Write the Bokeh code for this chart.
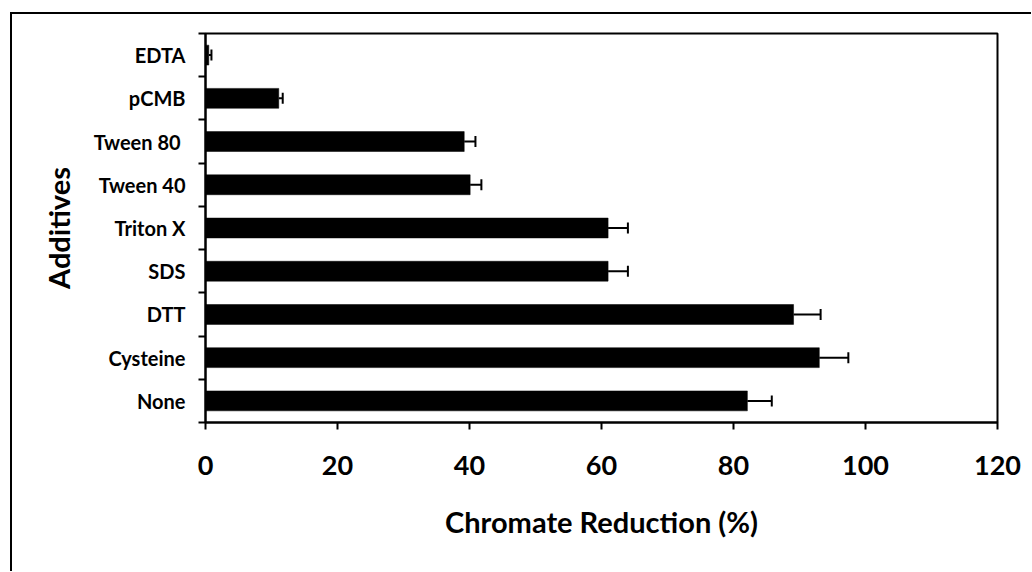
from bokeh.plotting import figure
from bokeh.models import ColumnDataSource, Range1d, FixedTicker, Whisker, TeeHead, CustomJSTickFormatter
from bokeh.embed import file_html
from bokeh.resources import INLINE

# ---- data (bottom to top) ----
categories = ["None", "Cysteine", "DTT", "SDS", "Triton X", "Tween 40", "Tween  80", "pCMB", "EDTA"]
reduction = [82.1, 93.0, 89.1, 61.0, 61.0, 40.1, 39.2, 11.1, 0.5]
errors = [3.7, 4.4, 4.1, 3.0, 3.0, 1.7, 1.7, 0.6, 0.4]
x_ticks = [0, 20, 40, 60, 80, 100, 120]

ypos = [i + 0.5 for i in range(len(categories))]
src = ColumnDataSource(dict(
    y=ypos,
    value=reduction,
    upper=[v + e for v, e in zip(reduction, errors)],
    cat=categories,
))

FONT = "Lato"

p = figure(
    output_backend="svg", toolbar_location=None,
    frame_width=792, frame_height=389,
    min_border_left=193, min_border_top=19, min_border_right=34, min_border_bottom=149,
    x_range=Range1d(0, 120), y_range=Range1d(0, len(categories)),
)
p.styles = {"border-left": "2px solid #000", "border-top": "2px solid #000",
            "margin-left": "10px", "margin-top": "12px"}

p.hbar(y="y", right="value", left=0, height=0.46, source=src,
       fill_color="black", line_color="black", line_width=0.5)

wh = Whisker(base="y", lower="value", upper="upper", dimension="width", source=src,
             line_color="black", line_width=2,
             upper_head=TeeHead(size=11, line_color="black", line_width=2),
             lower_head=None)
p.add_layout(wh)

p.xgrid.visible = False
p.ygrid.visible = False
p.outline_line_color = "black"
p.outline_line_width = 2
p.background_fill_color = "white"
p.border_fill_color = "white"

# x axis
xa = p.xaxis[0]
xa.ticker = FixedTicker(ticks=x_ticks, minor_ticks=[])
xa.axis_line_width = 2
xa.major_tick_line_width = 2
xa.major_tick_out = 7
xa.major_tick_in = 0
xa.minor_tick_out = 0
xa.minor_tick_in = 0
xa.major_label_text_font = FONT
xa.major_label_text_font_style = "bold"
xa.major_label_text_font_size = "27px"
xa.major_label_text_color = "black"
xa.major_label_standoff = 26
xa.axis_label = "Chromate Reduction (%)"
xa.axis_label_text_font = FONT
xa.axis_label_text_font_style = "bold"
xa.axis_label_text_font_size = "29px"
xa.axis_label_text_color = "black"
xa.axis_label_standoff = 26

# y axis: labels at category centres, ticks at boundaries
ya = p.yaxis[0]
ya.ticker = FixedTicker(ticks=ypos, minor_ticks=list(range(len(categories) + 1)))
ya.formatter = CustomJSTickFormatter(args=dict(labels=categories),
                                     code="return labels[Math.floor(tick)];")
ya.axis_line_width = 2
ya.major_tick_out = 0
ya.major_tick_in = 0
ya.minor_tick_out = 7
ya.minor_tick_in = 0
ya.minor_tick_line_width = 2
ya.major_label_text_font = FONT
ya.major_label_text_font_style = "bold"
ya.major_label_text_font_size = "20px"
ya.major_label_text_color = "black"
ya.major_label_standoff = 13
ya.axis_label = "Additives"
ya.axis_label_text_font = FONT
ya.axis_label_text_font_style = "bold"
ya.axis_label_text_font_size = "29px"
ya.axis_label_text_color = "black"
ya.axis_label_standoff = 15

open("out.html", "w").write(file_html(p, INLINE))
